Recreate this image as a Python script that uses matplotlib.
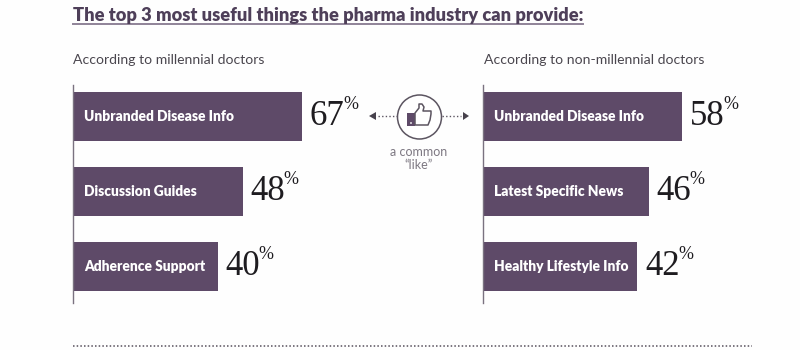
import matplotlib
matplotlib.use('Agg')
import matplotlib.pyplot as plt
from matplotlib.patches import Circle, Polygon, Rectangle

title = 'The top 3 most useful things the pharma industry can provide:'
left_heading = 'According to millennial doctors'
right_heading = 'According to non-millennial doctors'

left_labels = ['Unbranded Disease Info', 'Discussion Guides', 'Adherence Support']
left_values = [67, 48, 40]
right_labels = ['Unbranded Disease Info', 'Latest Specific News', 'Healthy Lifestyle Info']
right_values = [58, 46, 42]

BAR = '#5e4a68'
TITLE = '#4e3f59'
W, H = 800, 350

fig = plt.figure(figsize=(8, 3.5), dpi=100, facecolor='#fefefe')


def px_axes(x0, y0, x1, y1):
    return fig.add_axes([x0 / W, 1 - y1 / H, (x1 - x0) / W, (y1 - y0) / H])


def bars(box, labels, values, xmin, per_pct):
    ax = px_axes(*box)
    width = box[2] - box[0]
    ax.set_xlim(xmin, xmin + width / per_pct)
    ax.set_ylim(2.487, -0.42)
    ax.barh(range(3), [v - xmin for v in values], left=xmin, height=0.66, color=BAR)
    ax.axis('off')
    ax.axvline(xmin, color='#7a7280', lw=1, clip_on=False)
    for i, (lab, v) in enumerate(zip(labels, values)):
        ax.annotate(lab, (xmin, i), xytext=(8, 0), textcoords='offset points', color='white',
                    fontsize=9.9, family='Lato', weight='heavy', va='center', ha='left')
        t = ax.annotate(str(v), (v, i), xytext=(5.5, 0), textcoords='offset points', color='#1e1c20',
                        fontsize=25, family='Liberation Serif', va='center', ha='left')
        ax.annotate('%', xy=(1, 1), xycoords=t, xytext=(-1, 3), textcoords='offset points',
                    color='#1e1c20', fontsize=13, family='Liberation Serif', va='top', ha='left')
    return ax


bars((73, 85, 400, 303), left_labels, left_values, -6.6, 3.11)
bars((483, 85, 780, 303), right_labels, right_values, -12.9, 2.81)

# overlay in pixel coordinates for the text and the icon
ov = fig.add_axes([0, 0, 1, 1], facecolor='none')
ov.set_xlim(0, W)
ov.set_ylim(H, 0)
ov.axis('off')

ov.text(73, 15, title, fontsize=13.15, family='Lato', weight='heavy', color=TITLE, va='center', ha='left')
ov.plot([73, 583], [23.5, 23.5], color='#8f8398', lw=1.4)
ov.text(73, 60, left_heading, fontsize=10.1, family='Lato', color='#4a464e', va='center', ha='left')
ov.text(484, 60, right_heading, fontsize=10.1, family='Lato', color='#4a464e', va='center', ha='left')

# bottom dotted rule
ov.plot([73, 752], [346, 346], color='#57505c', lw=1.1, ls=(0, (1, 1.4)))

# common like icon
ov.add_patch(Circle((419.5, 117), 22, fc='white', ec='#5c5561', lw=1.1))
ov.add_patch(Rectangle((407, 113), 8, 13, fc=BAR, ec='none'))
ov.add_patch(Circle((411, 123), 0.9, fc='white', ec='none'))
thumb = [(415, 113), (419, 108), (419, 104), (422, 104), (424, 107), (423, 111),
         (431, 111), (431, 114), (430, 120), (428, 125), (415, 125)]
ov.add_patch(Polygon(thumb, closed=True, fc='white', ec='#5c5561', lw=1.1, joinstyle='round'))
ov.plot([378, 397], [116, 116], color='#5c5561', lw=1, ls=(0, (1, 1.6)))
ov.plot([442, 461], [116, 116], color='#5c5561', lw=1, ls=(0, (1, 1.6)))
ov.add_patch(Polygon([(369, 116), (376, 112), (376, 120)], closed=True, fc='#47414c', ec='none'))
ov.add_patch(Polygon([(469, 116), (463, 112), (463, 120)], closed=True, fc='#47414c', ec='none'))
ov.text(419, 152, 'a common', fontsize=9, family='Lato', color='#7d7882', va='center', ha='center')
ov.text(419, 165, '\u201clike\u201d', fontsize=9, family='Lato', color='#7d7882', va='center', ha='center')

fig.savefig('out.png', dpi=100, facecolor=fig.get_facecolor())
